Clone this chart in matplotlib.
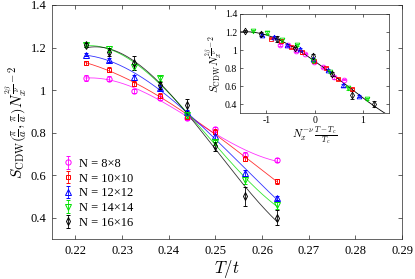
import numpy as np
import matplotlib
matplotlib.use('Agg')
import matplotlib.pyplot as plt
from matplotlib.ticker import FuncFormatter

plt.rcParams['font.family'] = ['Liberation Serif', 'DejaVu Serif']
plt.rcParams['mathtext.fontset'] = 'cm'
plt.rcParams['axes.unicode_minus'] = False

# temperatures T/t (1/4.5 ... 1/3.8)
temps = np.array([0.2222, 0.2273, 0.2326, 0.2381, 0.2439, 0.2500, 0.2564, 0.2632])
sizes = [8, 10, 12, 14, 16]
labels = ['N = 8\u00d78', 'N = 10\u00d710', 'N = 12\u00d712', 'N = 14\u00d714', 'N = 16\u00d716']

s8 = [1.057, 1.054, 0.994, 0.962, 0.871, 0.815, 0.697, 0.672]
s10 = [1.127, 1.096, 1.030, 0.974, 0.875, 0.805, 0.678, 0.571]
s12 = [1.166, 1.142, 1.061, 1.012, 0.898, 0.782, 0.610, 0.493]
s14 = [1.211, 1.194, 1.108, 1.056, 0.882, 0.755, 0.575, 0.458]
s16 = [1.211, 1.178, 1.127, 1.022, 0.930, 0.735, 0.500, 0.400]

e8 = [0.012, 0.012, 0.010, 0.010, 0.010, 0.010, 0.012, 0.008]
e10 = [0.008, 0.012, 0.012, 0.012, 0.010, 0.010, 0.012, 0.012]
e12 = [0.008, 0.010, 0.012, 0.010, 0.010, 0.012, 0.015, 0.010]
e14 = [0.010, 0.015, 0.015, 0.012, 0.012, 0.012, 0.015, 0.015]
e16 = [0.010, 0.020, 0.033, 0.015, 0.030, 0.020, 0.045, 0.035]

Tc = 0.2444
nu_inv = 1.0

series = [s8, s10, s12, s14, s16]
errors = [e8, e10, e12, e14, e16]
colors = ['#ff00ff', '#ff0000', '#0000ff', '#00e000', '#000000']
markers = ['o', 's', '^', 'v', 'd']
msizes = [3.8, 3.0, 3.8, 3.8, 3.8]

fig = plt.figure(figsize=(4.15, 2.79), dpi=100)
ax = fig.add_axes([0.1253, 0.1434, 0.8434, 0.8387])

tfine = np.linspace(temps[0], temps[-1], 200)
handles = []
for s, e, c, m, ms, lab in zip(series, errors, colors, markers, msizes, labels):
    p = np.polyfit(temps, s, 3)
    ax.plot(tfine, np.polyval(p, tfine), color=c, lw=0.6, alpha=0.8)
    h = ax.errorbar(temps, s, yerr=e, fmt=m, mfc='none', mec=c, ecolor=c,
                    ms=ms, mew=0.7, elinewidth=0.6, capsize=1.5, capthick=0.6,
                    label=lab)
    handles.append(h)

ax.set_xlim(0.215, 0.29)
ax.set_ylim(0.3, 1.4)
ax.set_xticks(np.arange(0.22, 0.2901, 0.01))
ax.set_yticks([0.4, 0.6, 0.8, 1.0, 1.2, 1.4])
fmt = FuncFormatter(lambda v, pos: '%g' % round(v, 3))
ax.xaxis.set_major_formatter(fmt)
ax.yaxis.set_major_formatter(fmt)
ax.tick_params(direction='in', top=True, right=True, labelsize=9, length=3,
               width=0.5, color='0.15', pad=4)
for sp in ax.spines.values():
    sp.set_linewidth(0.5)
    sp.set_color('0.15')
ax.set_xlabel(r'$T/t$', fontsize=12, labelpad=1)
ax.set_ylabel(r'$S_{\rm CDW}\left(\frac{\pi}{a},\frac{\pi}{a}\right)N_x^{\frac{2\beta}{\nu}-2}$',
              fontsize=11, labelpad=1)

ax.legend(handles=handles, loc='center left', bbox_to_anchor=(0.0, 0.195),
          frameon=False, fontsize=9, handlelength=1.2, handletextpad=0.3,
          labelspacing=0.22, borderpad=0.2)

# inset: data collapse
axin = fig.add_axes([0.5783, 0.5939, 0.3598, 0.356])
allx, ally = [], []
for n, s, e, c, m, ms in zip(sizes, series, errors, colors, markers, msizes):
    x = n ** nu_inv * (temps - Tc) / Tc
    allx.extend(x)
    ally.extend(s)
    axin.errorbar(x, s, yerr=e, fmt=m, mfc='none', mec=c, ecolor=c,
                  ms=ms * 0.9, mew=0.6, elinewidth=0.5, capsize=1.2, capthick=0.5)
pm = np.polyfit(allx, ally, 3)
xf = np.linspace(-1.6, 1.6, 200)
axin.plot(xf, np.polyval(pm, xf), color='k', lw=0.6)
axin.set_xlim(-1.55, 1.55)
axin.set_ylim(0.3, 1.4)
axin.set_xticks([-1, 0, 1])
axin.set_yticks([0.4, 0.6, 0.8, 1.0, 1.2, 1.4])
axin.xaxis.set_major_formatter(fmt)
axin.yaxis.set_major_formatter(fmt)
axin.tick_params(direction='in', top=True, right=True, labelsize=7, length=2,
                 width=0.5, color='0.15', pad=2)
for sp in axin.spines.values():
    sp.set_linewidth(0.5)
    sp.set_color('0.15')
axin.set_xlabel(r'$N_x^{-\nu}\,\frac{T-T_c}{T_c}$', fontsize=8, labelpad=0)
axin.set_ylabel(r'$S_{\rm CDW}N_x^{\frac{2\beta}{\nu}-2}$', fontsize=8, labelpad=0)

fig.savefig('out.png', dpi=100)
